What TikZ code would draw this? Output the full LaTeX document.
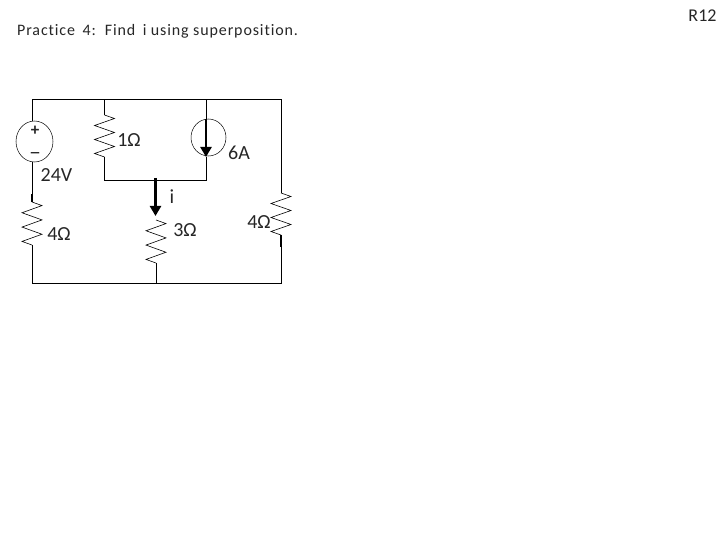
\documentclass[tikz,border=0pt]{standalone}
\usepackage{fontspec}
\setmainfont{Carlito}
\newfontfamily\spaced[LetterSpace=5.5,Ligatures=NoCommon]{Carlito}
\usetikzlibrary{arrows.meta,shapes.geometric}
\tikzset{
  wire/.style={draw=black,line width=0.75pt},
  resz/.style={draw=black,line width=0.6pt,line join=miter},
  cur/.style={draw=black,line width=2.4pt,-{Triangle[length=10pt,width=11pt]}},
  lab/.style={inner sep=0pt,font=\fontsize{20}{22}\selectfont,text=black!85},
  ring/.style={draw=black,line width=0.5pt,ellipse,minimum width=37pt,minimum height=41pt,inner sep=0pt}
}
\newcommand{\zigv}[3]{% x, ytop, ybottom: vertical zigzag resistor
  \pgfmathsetmacro{\dy}{(#3-#2)/6}
  \draw[resz] (#1,#2) -- ++(10,0.5*\dy) -- ++(-20,\dy) -- ++(20,\dy) -- ++(-20,\dy) -- ++(20,\dy) -- ++(-20,\dy) -- (#1,#3);
}
\begin{document}
\begin{tikzpicture}[x=1pt,y=-1pt]
\useasboundingbox (0,0) rectangle (720,540);
\coordinate (tl) at (32,99.5);
\coordinate (tm) at (104.5,99.5);
\coordinate (ts) at (206,99.5);
\coordinate (tr) at (281,99.5);
\coordinate (bl) at (32,283);
\coordinate (bm) at (156,283);
\coordinate (br) at (281,283);
\coordinate (lm) at (104.5,180);
\coordinate (lj) at (155.5,180);
\coordinate (ls) at (206,180);
\node[ring] (vs) at (34.5,141.5) {};
\node[ring,minimum width=35pt,minimum height=37pt] (cs) at (208.5,137.5) {};
\coordinate (r1a) at (32,202); \coordinate (r1b) at (32,245);
\coordinate (r2a) at (104.5,115); \coordinate (r2b) at (104.5,157);
\coordinate (r3a) at (156,220); \coordinate (r3b) at (156,263);
\coordinate (r4a) at (281,193); \coordinate (r4b) at (281,235);
\coordinate (csa) at (206,119); \coordinate (csb) at (206,157);
\coordinate (vsb) at (32,162); \coordinate (vst) at (32,121);
\draw[wire] (r1a) -- (vsb);
\draw[wire] (vst) -- (tl) -- (tr) -- (r4a);
\draw[wire] (tm) -- (r2a);
\draw[wire] (r2b) -- (lm) -- (ls) -- (csb);
\draw[wire] (ts) -- (csa);
\draw[wire] (r1b) -- (bl) -- (br) -- (r4b);
\draw[wire] (r3b) -- (bm);
\draw[line width=1.4pt] (r1a) -- ++(0,-8);
\draw[line width=1.4pt] (r2a) -- ++(0,-8);
\draw[line width=1.4pt] (r4b) -- ++(0,12);
\zigv{32}{202}{245}
\zigv{104.5}{115}{157}
\zigv{156}{220}{263}
\zigv{281}{193}{235}
\draw[cur] (csa) -- (csb);
\coordinate (ia) at (155.5,178); \coordinate (ib) at (155.5,216);
\draw[cur] (ia) -- (ib);
\node[lab,anchor=center,font=\bfseries\fontsize{17}{19}\selectfont] (plus) at (35,131) {+};
\node[lab,anchor=center,font=\bfseries\fontsize{17}{19}\selectfont] (minus) at (35,153) {\_};
\node[lab] (v) at (56.5,175) {24V};
\node[lab] (a) at (239,153) {6A};
\node[lab] (r1) at (129,140) {1Ω};
\node[lab] (r2) at (59,234) {4Ω};
\node[lab] (r3) at (185,230) {3Ω};
\node[lab] (r4) at (259,222) {4Ω};
\node[lab] (il) at (172,197) {i};
\node[inner sep=0pt,anchor=west,font=\spaced\fontsize{16}{18}\selectfont,text=black!85] (title) at (17,31) {Practice\hspace{3pt} 4:\hspace{3pt} Find\hspace{3pt} i using superposition.};
\node[inner sep=0pt,font=\fontsize{18}{20}\selectfont,text=black!85] (pg) at (702.5,16) {R12};
\end{tikzpicture}
\end{document}
